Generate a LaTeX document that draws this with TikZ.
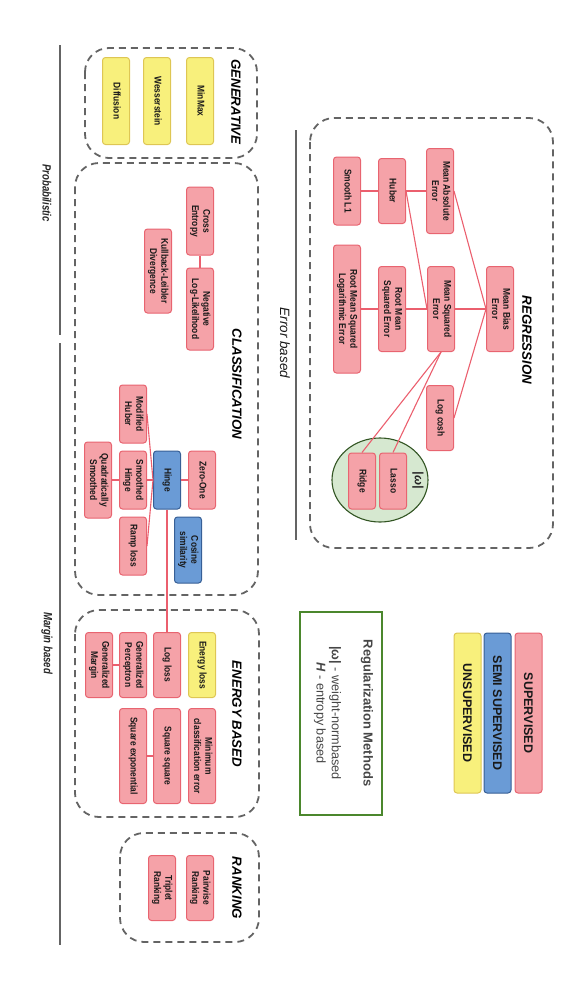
\documentclass[tikz,border=0pt]{standalone}
\usepackage{fontspec}
\setmainfont{Liberation Sans}
\usetikzlibrary{shapes.geometric}

\definecolor{pkf}{RGB}{245,162,168}
\definecolor{pkd}{RGB}{232,100,112}
\definecolor{blf}{RGB}{106,155,214}
\definecolor{bld}{RGB}{55,95,150}
\definecolor{ylf}{RGB}{248,240,124}
\definecolor{yld}{RGB}{222,198,84}
\definecolor{grf}{RGB}{214,232,208}
\definecolor{grd}{RGB}{50,85,35}
\definecolor{grb}{RGB}{75,135,45}
\definecolor{dsh}{RGB}{100,100,100}
\definecolor{lnk}{RGB}{235,95,110}
\definecolor{txg}{RGB}{70,70,70}

\newcommand{\rtx}[1]{\rotatebox{-90}{\scalebox{0.86}[1]{\begin{tabular}{@{}c@{}}#1\end{tabular}}}}
\newcommand{\rcond}[1]{\rotatebox{-90}{\scalebox{0.8}[1]{#1}}}

\begin{document}
\begin{tikzpicture}[x=1pt,y=-1pt,
  font=\fontsize{9.8}{11.3}\selectfont\bfseries,
  box/.style={rounded corners=3pt, line width=1pt, minimum width=27pt, minimum height=#1, inner sep=0pt, text=black!90},
  pk/.style={box=#1, draw=pkd, fill=pkf},
  bl/.style={box=#1, draw=bld, fill=blf},
  yl/.style={box=#1, draw=yld, fill=ylf},
  grp/.style={draw=dsh, dash pattern=on 7pt off 5pt, line width=1.8pt, rounded corners=24pt},
  title/.style={font=\fontsize{13.3}{16}\selectfont\bfseries\itshape, inner sep=0pt},
  lnk/.style={draw=lnk, line width=1.1pt},
  sep/.style={draw=dsh, line width=1.4pt},
  lbl/.style={inner sep=0pt, text=black!85},
  leg/.style={box=#1, font=\fontsize{12.5}{14}\selectfont\bfseries}
]
\useasboundingbox (0,0) rectangle (584,985);

% ---------- group boxes ----------
\draw[grp] (310,118) rectangle (553,548);
\draw[grp] (85,48) rectangle (257,158);
\draw[grp] (75,163) rectangle (258,595);
\draw[grp] (75,610) rectangle (259,817);
\draw[grp] (120,833) rectangle (259,942);

% ---------- separators and side labels ----------
\coordinate (e1) at (296,130); \coordinate (e2) at (296,540);
\draw[sep] (e1) -- (e2);
\node[lbl, text=black!90, font=\fontsize{13.5}{16}\selectfont\itshape] (eb) at (285,343) {\rotatebox{-90}{Error based}};
\coordinate (p1) at (60,45); \coordinate (p2) at (60,335);
\draw[sep] (p1) -- (p2);
\coordinate (m1) at (60,343); \coordinate (m2) at (60,945);
\draw[sep] (m1) -- (m2);
\node[lbl, font=\fontsize{12}{14}\selectfont\bfseries\itshape] (pb) at (47,193) {\rcond{Probabilistic}};
\node[lbl, font=\fontsize{12}{14}\selectfont\bfseries\itshape] (mb) at (47,643) {\rcond{Margin based}};

% ---------- titles ----------
\node[title] (tReg) at (527,340) {\rotatebox{-90}{REGRESSION}};
\node[title] (tGen) at (236,102) {\rotatebox{-90}{GENERATIVE}};
\node[title] (tCls) at (237,384) {\rotatebox{-90}{CLASSIFICATION}};
\node[title] (tEn)  at (237,714) {\rotatebox{-90}{ENERGY BASED}};
\node[title] (tRk)  at (237,888) {\rotatebox{-90}{RANKING}};

% ---------- regression ----------
\node[ellipse, draw=grd, fill=grf, line width=1.1pt, minimum width=96pt, minimum height=84pt, inner sep=0pt] (wreg) at (380,480) {};
\node[pk=85pt] (mae)   at (440,191) {\rtx{Mean Absolute\\Error}};
\node[pk=65pt] (huber) at (392,191) {\rtx{Huber}};
\node[pk=68pt] (sl1)   at (347,191) {\rtx{Smooth L1}};
\node[pk=85pt] (mbe)   at (500,309) {\rtx{Mean Bias\\Error}};
\node[pk=85pt] (mse)   at (441,309) {\rtx{Mean Squared\\Error}};
\node[pk=85pt] (rmse)  at (392,309) {\rtx{Root Mean\\Squared Error}};
\node[pk=128pt] (rmsle) at (347,309) {\rtx{Root Mean Squared\\Logarithmic Error}};
\node[pk=65pt] (lcosh) at (440,418) {\rtx{Log cosh}};
\node[pk=56pt] (ridge) at (362,481) {\rtx{Ridge}};
\node[pk=56pt] (lasso) at (393,481) {\rtx{Lasso}};
\node[lbl, font=\fontsize{12}{14}\selectfont\bfseries\itshape] (om) at (418,480) {\rotatebox{-90}{|ω|}};

\draw[lnk] (mae) -- (huber);
\draw[lnk] (huber) -- (sl1);
\draw[lnk] (mbe) -- (mse);
\draw[lnk] (mse) -- (rmse);
\draw[lnk] (rmse) -- (rmsle);
\draw[lnk] (mae.east) -- (mbe.west);
\draw[lnk] (lcosh.east) -- (mbe.west);
\draw[lnk] (huber.east) -- (mse.west);
\draw[lnk] (mse.south) -- (lasso.north);
\draw[lnk] (mse.south) -- (ridge.north);

% ---------- generative ----------
\node[yl=87pt] (minmax) at (200,101) {\rtx{MinMax}};
\node[yl=87pt] (wass)   at (157,101) {\rtx{Wesserstein}};
\node[yl=87pt] (diff)   at (116,101) {\rtx{Diffusion}};

% ---------- classification ----------
\node[pk=68pt] (ce)  at (200,221) {\rtx{Cross\\Entropy}};
\node[pk=82pt] (nll) at (200,309) {\rtx{Negative\\Log-Likelihood}};
\node[pk=84pt] (kl)  at (158,271) {\rtx{Kullback-Leibler\\Divergence}};
\node[pk=58pt] (mhub) at (133,414) {\rtx{Modified\\Huber}};
\node[pk=58pt] (shin) at (133,480) {\rtx{Smoothed\\Hinge}};
\node[pk=58pt] (ramp) at (133,546) {\rtx{Ramp loss}};
\node[pk=76pt] (qs)   at (98,480)  {\rtx{Quadratically\\Smoothed}};
\node[bl=58pt] (hinge) at (167,480) {\rtx{Hinge}};
\node[pk=58pt] (zo)   at (202,480) {\rtx{Zero-One}};
\node[bl=66pt] (cos)  at (188,550) {\rtx{Cosine\\similarity}};

\draw[lnk] (ce) -- (nll);
\draw[lnk] (hinge) -- (zo);
\draw[lnk] (hinge) -- (shin);
\draw[lnk] (hinge.west) -- (mhub.east);
\draw[lnk] (hinge.west) -- (ramp.east);
\draw[lnk] (shin) -- (qs);

% ---------- energy based ----------
\node[yl=65pt] (eloss) at (202,665) {\rtx{Energy loss}};
\node[pk=65pt] (logl)  at (167,665) {\rtx{Log loss}};
\node[pk=65pt] (gper)  at (133,665) {\rtx{Generalized\\Perceptron}};
\node[pk=65pt] (gmar)  at (99,665)  {\rtx{Generalized\\Margin}};
\node[pk=95pt] (mce)   at (202,756) {\rtx{Minimum\\classification error}};
\node[pk=95pt] (sqsq)  at (167,756) {\rtx{Square square}};
\node[pk=95pt] (sqex)  at (133,756) {\rtx{Square exponential}};

\draw[lnk] (hinge) -- (logl);
\draw[lnk] (gper) -- (gmar);
\draw[lnk] (sqsq) -- (sqex);

% ---------- ranking ----------
\node[pk=65pt] (pair) at (200,888) {\rtx{Pairwise\\Ranking}};
\node[pk=65pt] (trip) at (162,888) {\rtx{Triplet\\Ranking}};

% ---------- regularization legend ----------
\node[draw=grb, line width=1.8pt, minimum width=82pt, minimum height=203pt, inner sep=0pt] (rbox) at (341,713.5) {};
\node[lbl, text=txg, font=\fontsize{13}{15}\selectfont\bfseries] (rm) at (367,713) {\rotatebox{-90}{Regularization Methods}};
\node[lbl, text=txg, font=\fontsize{12.7}{15}\selectfont] (rw) at (335,713) {\rotatebox{-90}{\textbf{|ω|} - weight-normbased}};
\node[lbl, text=txg, font=\fontsize{12.7}{15}\selectfont] (rh) at (320,713) {\rotatebox{-90}{\textbf{\textit{H}} - entropy based}};

% ---------- colour legend ----------
\node[leg=160pt, draw=pkd, fill=pkf] (lsup)  at (528.5,713) {\rotatebox{-90}{SUPERVISED}};
\node[leg=160pt, draw=bld, fill=blf] (lsemi) at (497.5,713) {\rotatebox{-90}{SEMI SUPERVISED}};
\node[leg=160pt, draw=yld, fill=ylf] (luns)  at (467.5,713) {\rotatebox{-90}{UNSUPERVISED}};
\end{tikzpicture}
\end{document}
